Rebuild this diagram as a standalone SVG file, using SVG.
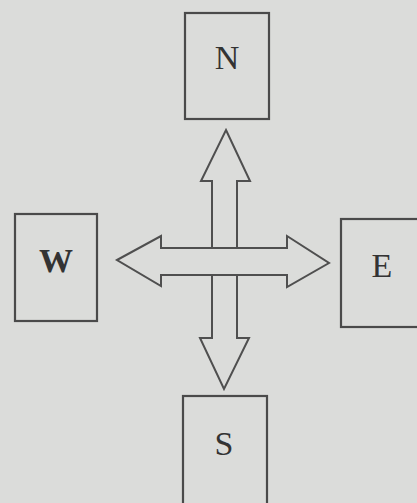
<svg xmlns="http://www.w3.org/2000/svg" width="417" height="503" viewBox="0 0 417 503">
<style>
.box{fill:none;stroke:#4a4a4a;stroke-width:2.2}
.arr{fill:#dbdcda;stroke:#4f4f4f;stroke-width:2;stroke-linejoin:miter}
.lbl{font-family:"Liberation Serif","Times New Roman",serif;font-size:34px;fill:#333;text-anchor:middle}
</style>
<rect width="417" height="503" fill="#dbdcda"/>
<g id="N"><rect class="box" x="185" y="13" width="84" height="106"/><text class="lbl" x="227" y="69">N</text></g>
<g id="W"><rect class="box" x="15" y="214" width="82" height="107"/><text class="lbl" x="56" y="272" font-weight="bold">W</text></g>
<g id="E"><rect class="box" x="341" y="219" width="82" height="108"/><text class="lbl" x="382" y="277">E</text></g>
<g id="S"><rect class="box" x="183" y="396" width="84" height="112"/><text class="lbl" x="224" y="455">S</text></g>
<g id="connectors">
<path class="arr" d="M226,130 L250,181 L237,181 L237,338 L249,338 L224,389 L200,338 L212,338 L212,181 L201,181 Z"/>
<path class="arr" d="M117,260 L161,236 L161,248 L287,248 L287,236 L329,263 L287,287 L287,275 L161,275 L161,286 Z"/>
</g>
</svg>
